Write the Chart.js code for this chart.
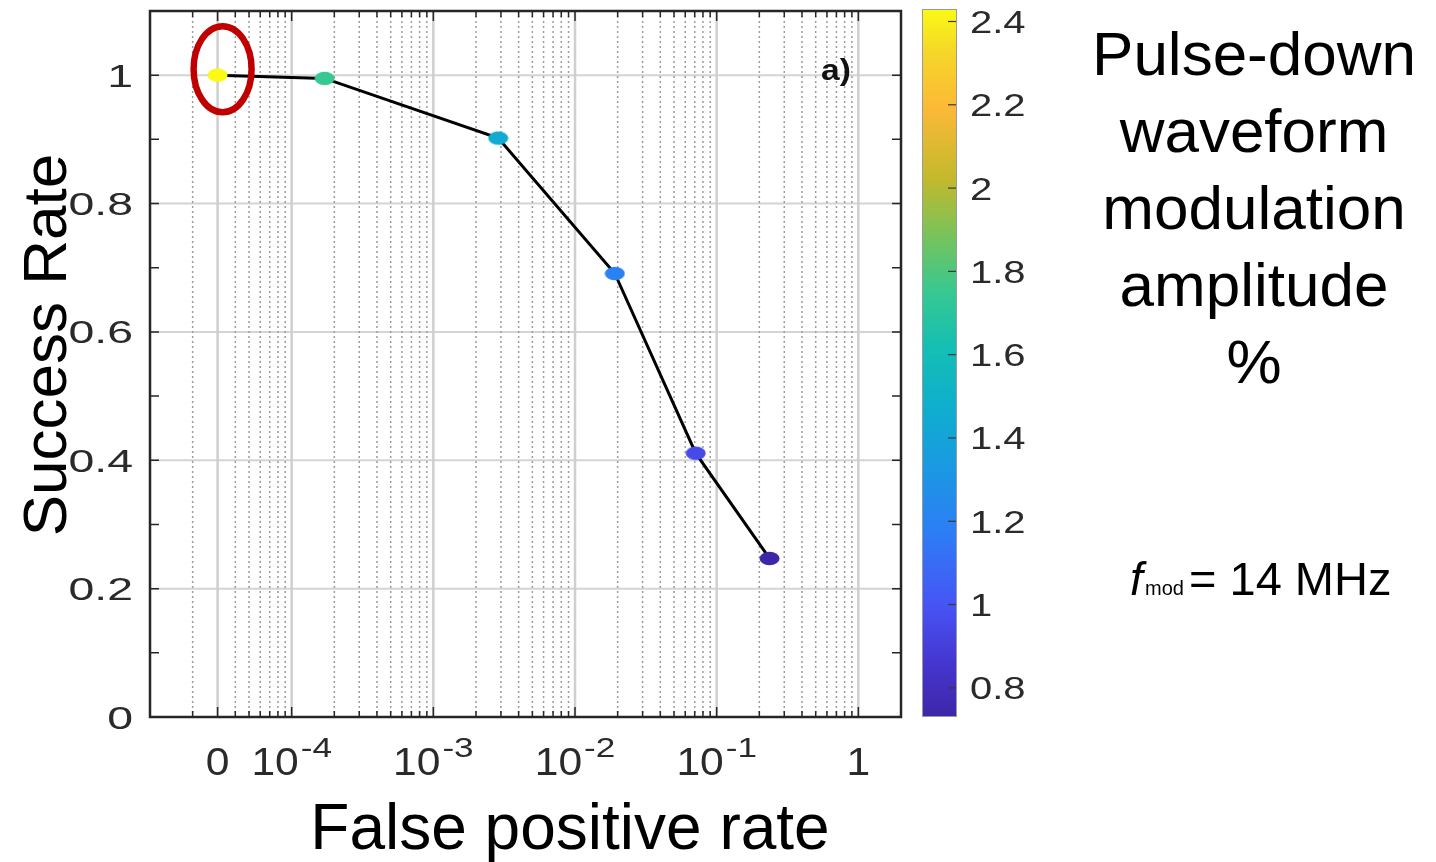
<!DOCTYPE html>
<html>
<head>
<meta charset="utf-8">
<script src="https://cdn.jsdelivr.net/npm/chart.js@4.4.1/dist/chart.umd.min.js"></script>
<style>
  html, body { margin: 0; padding: 0; background: #fff; }
  canvas { display: block; }
</style>
</head>
<body>
<canvas id="roc" width="1436" height="862"></canvas>
<script>
// values
const falsePositiveRate = [0, 1.71e-4, 2.87e-3, 0.0191, 0.0711, 0.236];
const successRate = [1.0, 0.995, 0.902, 0.691, 0.411, 0.247];
const modAmplitude = [2.43, 1.75, 1.45, 1.2, 0.95, 0.73];

const xTickValues = [0, 1e-4, 1e-3, 1e-2, 1e-1, 1];
const xTickLabels = [['0', ''], ['10', '-4'], ['10', '-3'], ['10', '-2'], ['10', '-1'], ['1', '']];
const yTickValues = [0, 0.2, 0.4, 0.6, 0.8, 1];
const yTickLabels = ['0', '0.2', '0.4', '0.6', '0.8', '1'];
const cbTickValues = [0.8, 1, 1.2, 1.4, 1.6, 1.8, 2, 2.2, 2.4];
const cbTickLabels = ['0.8', '1', '1.2', '1.4', '1.6', '1.8', '2', '2.2', '2.4'];
const cbRange = [0.73, 2.43];

const titleLines = ['Pulse-down', 'waveform', 'modulation', 'amplitude', '%'];

const ZERO_AT = 3e-5;   // the "0" tick sits here on the log axis
const FONT = '"Liberation Sans", Arial, Helvetica, sans-serif';

// parula-like colormap, picked off the colorbar
const parulaStops = [
  [0.00, 62, 38, 168], [0.08, 70, 55, 210], [0.16, 70, 85, 245],
  [0.26, 45, 125, 245], [0.36, 25, 155, 225], [0.44, 15, 175, 205],
  [0.52, 20, 190, 180], [0.60, 55, 200, 145], [0.68, 120, 195, 90],
  [0.76, 195, 185, 45], [0.86, 252, 185, 55], [0.94, 245, 215, 40],
  [1.00, 250, 250, 20]
];

function parula(t) {
  t = Math.max(0, Math.min(1, t));
  for (let i = 1; i < parulaStops.length; i++) {
    const b = parulaStops[i];
    if (t <= b[0]) {
      const a = parulaStops[i - 1];
      const f = (t - a[0]) / (b[0] - a[0]);
      const c = [1, 2, 3].map(k => Math.round(a[k] + (b[k] - a[k]) * f));
      return `rgb(${c[0]},${c[1]},${c[2]})`;
    }
  }
  return 'rgb(250,250,20)';
}

function ampColor(v) {
  return parula((v - cbRange[0]) / (cbRange[1] - cbRange[0]));
}

function ellipseMarker(color) {
  const c = document.createElement('canvas');
  c.width = 21;
  c.height = 15;
  const g = c.getContext('2d');
  g.fillStyle = color;
  g.beginPath();
  g.ellipse(10.5, 7.5, 10, 6.8, 0, 0, Math.PI * 2);
  g.fill();
  return c;
}

const toAxis = v => (v === 0 ? ZERO_AT : v);

function stretchText(ctx, text, x, y, sx, align) {
  ctx.save();
  ctx.translate(x, y);
  ctx.scale(sx, 1);
  ctx.textAlign = align;
  ctx.fillText(text, 0, 0);
  ctx.restore();
}

function minorValues() {
  const out = [];
  for (let k = -5; k <= 0; k++) {
    for (let m = 2; m <= 9; m++) {
      const v = m * Math.pow(10, k);
      if (v > 2) break;
      if (Math.abs(v - ZERO_AT) < 1e-12) continue;
      out.push(v);
    }
  }
  return out;
}

const matlabAxes = {
  id: 'matlabAxes',
  beforeDatasetsDraw(chart) {
    const { ctx, chartArea: a, scales: { x, y } } = chart;
    ctx.save();
    // horizontal grid
    ctx.strokeStyle = '#d4d4d4';
    ctx.lineWidth = 2;
    yTickValues.forEach(v => {
      const py = y.getPixelForValue(v);
      ctx.beginPath();
      ctx.moveTo(a.left, py);
      ctx.lineTo(a.right, py);
      ctx.stroke();
    });
    // minor vertical grid, dotted
    ctx.strokeStyle = '#9c9c9c';
    ctx.lineWidth = 1.5;
    ctx.setLineDash([2, 3]);
    minorValues().forEach(v => {
      const px = x.getPixelForValue(v);
      ctx.beginPath();
      ctx.moveTo(px, a.top);
      ctx.lineTo(px, a.bottom);
      ctx.stroke();
    });
    ctx.setLineDash([]);
    // major vertical grid
    ctx.strokeStyle = '#cfcfcf';
    ctx.lineWidth = 2.5;
    xTickValues.forEach(v => {
      const px = x.getPixelForValue(toAxis(v));
      ctx.beginPath();
      ctx.moveTo(px, a.top);
      ctx.lineTo(px, a.bottom);
      ctx.stroke();
    });
    ctx.restore();
  },
  afterDatasetsDraw(chart) {
    const { ctx, chartArea: a, scales: { x, y } } = chart;
    ctx.save();

    // ticks
    ctx.strokeStyle = '#262626';
    ctx.lineWidth = 1.5;
    for (let i = 0; i <= 11; i++) {
      const py = y.getPixelForValue(i / 10);
      ctx.beginPath();
      ctx.moveTo(a.left, py); ctx.lineTo(a.left + 9, py);
      ctx.moveTo(a.right, py); ctx.lineTo(a.right - 9, py);
      ctx.stroke();
    }
    const xTick = (v, len) => {
      const px = x.getPixelForValue(v);
      ctx.beginPath();
      ctx.moveTo(px, a.bottom); ctx.lineTo(px, a.bottom - len);
      ctx.moveTo(px, a.top); ctx.lineTo(px, a.top + len);
      ctx.stroke();
    };
    minorValues().forEach(v => xTick(v, 6));
    xTickValues.forEach(v => xTick(toAxis(v), 10));

    // frame
    ctx.lineWidth = 2.5;
    ctx.strokeRect(a.left, a.top, a.right - a.left, a.bottom - a.top);

    // tick labels
    ctx.fillStyle = '#2a2a2a';
    ctx.textBaseline = 'alphabetic';
    ctx.font = `32px ${FONT}`;
    yTickValues.forEach((v, i) => {
      stretchText(ctx, yTickLabels[i], 133, y.getPixelForValue(v) + 11.5, 1.45, 'right');
    });
    xTickValues.forEach((v, i) => {
      const px = x.getPixelForValue(toAxis(v));
      const [base, sup] = xTickLabels[i];
      ctx.font = `38px ${FONT}`;
      const w1 = ctx.measureText(base).width * 1.12;
      ctx.font = `27px ${FONT}`;
      const w2 = sup ? ctx.measureText(sup).width * 1.3 + 2 : 0;
      const start = px - (w1 + w2) / 2;
      ctx.font = `38px ${FONT}`;
      stretchText(ctx, base, start, 775, 1.12, 'left');
      if (sup) {
        ctx.font = `27px ${FONT}`;
        stretchText(ctx, sup, start + w1 + 2, 757, 1.3, 'left');
      }
    });

    // colorbar
    const cbL = 922, cbR = 957, cbT = 9, cbB = 717;
    for (let py = cbT; py < cbB; py++) {
      const t = (cbB - py - 0.5) / (cbB - cbT);
      ctx.fillStyle = parula(t);
      ctx.fillRect(cbL, py, cbR - cbL, 1);
    }
    ctx.strokeStyle = '#9a9a9a';
    ctx.lineWidth = 1;
    ctx.strokeRect(cbL + 0.5, cbT + 0.5, cbR - cbL - 1, cbB - cbT - 1);
    const cbY = v => cbB - (v - cbRange[0]) / (cbRange[1] - cbRange[0]) * (cbB - cbT);
    ctx.strokeStyle = '#3a3a3a';
    ctx.lineWidth = 1.2;
    ctx.fillStyle = '#2a2a2a';
    ctx.font = `32px ${FONT}`;
    cbTickValues.forEach((v, i) => {
      const py = cbY(v);
      ctx.beginPath();
      ctx.moveTo(cbR - 1, py); ctx.lineTo(cbR - 9, py);
      ctx.stroke();
      stretchText(ctx, cbTickLabels[i], 970, py + 11.5, 1.25, 'left');
    });

    // panel tag
    ctx.fillStyle = '#111';
    ctx.font = `bold 30px ${FONT}`;
    stretchText(ctx, 'a)', 821, 80, 1.12, 'left');

    // red ring round the zero-FPR point
    const p0x = x.getPixelForValue(toAxis(falsePositiveRate[0]));
    const p0y = y.getPixelForValue(successRate[0]);
    ctx.strokeStyle = '#c00000';
    ctx.lineWidth = 6.5;
    ctx.beginPath();
    ctx.ellipse(p0x + 5, p0y - 6, 29, 43, 0, 0, Math.PI * 2);
    ctx.stroke();

    // axis titles
    ctx.fillStyle = '#000';
    ctx.font = `64px ${FONT}`;
    ctx.textAlign = 'center';
    ctx.fillText('False positive rate', 570, 849);
    ctx.font = `62px ${FONT}`;
    ctx.save();
    ctx.translate(66, 345);
    ctx.rotate(-Math.PI / 2);
    ctx.fillText('Success Rate', 0, 0);
    ctx.restore();

    // right-hand annotation
    titleLines.forEach((t, i) => ctx.fillText(t, 1254, 75 + i * 77));
    ctx.textAlign = 'left';
    ctx.font = `italic 46px ${FONT}`;
    ctx.fillText('f', 1130, 595);
    ctx.font = `20px ${FONT}`;
    ctx.fillText('mod', 1145, 595);
    ctx.font = `47px ${FONT}`;
    ctx.fillText('= 14 MHz', 1189, 595);

    ctx.restore();
  }
};

const points = falsePositiveRate.map((v, i) => ({ x: toAxis(v), y: successRate[i] }));

new Chart(document.getElementById('roc'), {
  type: 'scatter',
  data: {
    datasets: [{
      data: points,
      showLine: true,
      borderColor: '#000',
      borderWidth: 3,
      pointStyle: modAmplitude.map(v => ellipseMarker(ampColor(v))),
      pointRadius: 8,
      clip: false
    }]
  },
  options: {
    responsive: false,
    animation: false,
    devicePixelRatio: 1,
    layout: { padding: { left: 150, top: 10, right: 535, bottom: 145 } },
    plugins: { legend: { display: false }, tooltip: { enabled: false } },
    scales: {
      x: { type: 'logarithmic', min: 1e-5, max: 2, display: false },
      y: { type: 'linear', min: 0, max: 1.1, display: false }
    }
  },
  plugins: [matlabAxes]
});
</script>
</body>
</html>
